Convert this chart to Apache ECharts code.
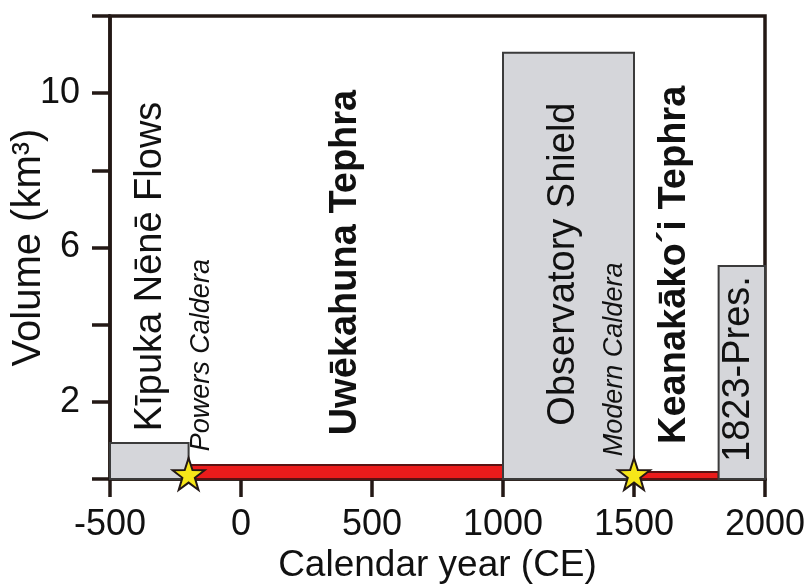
<!DOCTYPE html>
<html>
<head>
<meta charset="utf-8">
<script src="https://cdn.jsdelivr.net/npm/echarts@6/dist/echarts.min.js"></script>
<style>html,body{margin:0;padding:0;background:#fff}#c{width:807px;height:584px}</style>
</head>
<body>
<div id="c"></div>
<script>
// ---- data ----
const unitNames = ['Kīpuka Nēnē Flows', 'Observatory Shield', '1823-Pres.'];
const unitStart = [-500, 1000, 1823];
const unitEnd = [-200, 1500, 2000];
const unitVolume = [0.93, 11.05, 5.52];

const tephraNames = ['Uwēkahuna Tephra', 'Keanakāko´i Tephra'];
const tephraStart = [-200, 1500];
const tephraEnd = [1000, 1823];
const tephraVolume = [0.36, 0.18];

const calderaNames = ['Powers Caldera', 'Modern Caldera'];
const calderaYear = [-200, 1500];

const xTicks = [-500, 0, 500, 1000, 1500, 2000];
const yTickLabels = [2, 6, 10];

// annotation anchors in data units (year, km3)
const annoText = ['Kīpuka Nēnē Flows', 'Powers Caldera', 'Uwēkahuna Tephra', 'Observatory Shield', 'Modern Caldera', 'Keanakāko´i Tephra', '1823-Pres.'];
const annoYear = [-347, -151, 400, 1231, 1427, 1656, 1900];
const annoVol = [5.51, 3.21, 5.61, 5.57, 3.10, 5.55, 2.85];

// ---- chart ----
const FONT = '"Liberation Sans", Arial, Helvetica, sans-serif';
const INK = '#231815';
const TXT = '#111111';
const annoStyle = {
  'Kīpuka Nēnē Flows': {fontSize: 38, fontWeight: 'normal', fontStyle: 'normal'},
  'Powers Caldera': {fontSize: 27, fontWeight: 'normal', fontStyle: 'italic'},
  'Uwēkahuna Tephra': {fontSize: 38, fontWeight: 'bold', fontStyle: 'normal'},
  'Observatory Shield': {fontSize: 38, fontWeight: 'normal', fontStyle: 'normal'},
  'Modern Caldera': {fontSize: 27, fontWeight: 'normal', fontStyle: 'italic'},
  'Keanakāko´i Tephra': {fontSize: 38, fontWeight: 'bold', fontStyle: 'normal'},
  '1823-Pres.': {fontSize: 38, fontWeight: 'normal', fontStyle: 'normal'}
};

function rectSeries(name, starts, ends, vols, fill, stroke, z) {
  return {
    name, type: 'custom', z,
    data: starts.map((s, i) => [s, ends[i], vols[i]]),
    encode: {x: [0, 1], y: 2},
    renderItem: function (params, api) {
      const p0 = api.coord([api.value(0), api.value(2)]);
      const p1 = api.coord([api.value(1), 0]);
      return {
        type: 'rect',
        shape: {x: p0[0], y: p0[1], width: p1[0] - p0[0], height: p1[1] - p0[1]},
        style: {fill: fill, stroke: stroke, lineWidth: 2}
      };
    }
  };
}

const starPath = 'path://M50,0 L61.8,35.1 L98.9,35.5 L69.1,57.6 L80.2,93 L50,71.5 L19.8,93 L30.9,57.6 L1.1,35.5 L38.2,35.1 Z';

const chart = echarts.init(document.getElementById('c'), null, {renderer: 'canvas'});
chart.setOption({
  animation: false,
  backgroundColor: '#fff',
  textStyle: {fontFamily: FONT},
  grid: {left: 110, right: 42, top: 16, bottom: 105, show: true, borderColor: INK, borderWidth: 3.5, outerBoundsMode: 'none', containLabel: false},
  xAxis: {
    type: 'value', min: xTicks[0], max: xTicks[xTicks.length - 1], interval: 500,
    name: 'Calendar year (CE)', nameLocation: 'middle', nameGap: 68, nameMoveOverlap: false,
    nameTextStyle: {fontSize: 37, color: TXT, fontFamily: FONT},
    axisLine: {show: true, onZero: false, lineStyle: {color: INK, width: 3.5}},
    axisTick: {show: true, inside: false, length: 18, lineStyle: {color: INK, width: 3.5}},
    axisLabel: {show: true, margin: 28, fontSize: 36, color: TXT, fontFamily: FONT, formatter: v => String(v)},
    splitLine: {show: false}
  },
  yAxis: {
    type: 'value', min: 0, max: 12, interval: 2,
    name: 'Volume (km³)', nameLocation: 'middle', nameGap: 61, nameRotate: 90, nameMoveOverlap: false,
    nameTextStyle: {fontSize: 40, color: TXT, fontFamily: FONT},
    axisLine: {show: true, onZero: false, lineStyle: {color: INK, width: 3.5}},
    axisTick: {show: true, inside: false, length: 18, lineStyle: {color: INK, width: 3.5}},
    axisLabel: {show: true, margin: 30, fontSize: 36, color: TXT, fontFamily: FONT,
      formatter: v => yTickLabels.indexOf(v) >= 0 ? String(v) : ''},
    splitLine: {show: false}
  },
  series: [
    rectSeries('tephra', tephraStart, tephraEnd, tephraVolume, '#ec1b1b', '#5b1212', 2),
    rectSeries('units', unitStart, unitEnd, unitVolume, '#d5d6da', '#3b3b3b', 3),
    {
      name: 'caldera', type: 'scatter', z: 5,
      data: calderaYear.map(y => [y, 0]),
      symbol: starPath, symbolSize: 32, symbolOffset: [0, -5],
      itemStyle: {color: '#f7e619', borderColor: INK, borderWidth: 2, opacity: 1}
    },
    {
      name: 'labels', type: 'scatter', z: 6, silent: true,
      data: annoText.map((t, i) => ({
        value: [annoYear[i], annoVol[i]], name: t,
        label: Object.assign({}, annoStyle[t])
      })),
      symbolSize: 0,
      itemStyle: {color: TXT, opacity: 1},
      label: {
        show: true, position: [0, 0], rotate: 90, align: 'center', verticalAlign: 'middle',
        color: TXT, fontFamily: FONT, textBorderWidth: 0, textBorderColor: 'transparent',
        opacity: 1,
        formatter: p => p.name
      }
    }
  ]
});
</script>
</body>
</html>
